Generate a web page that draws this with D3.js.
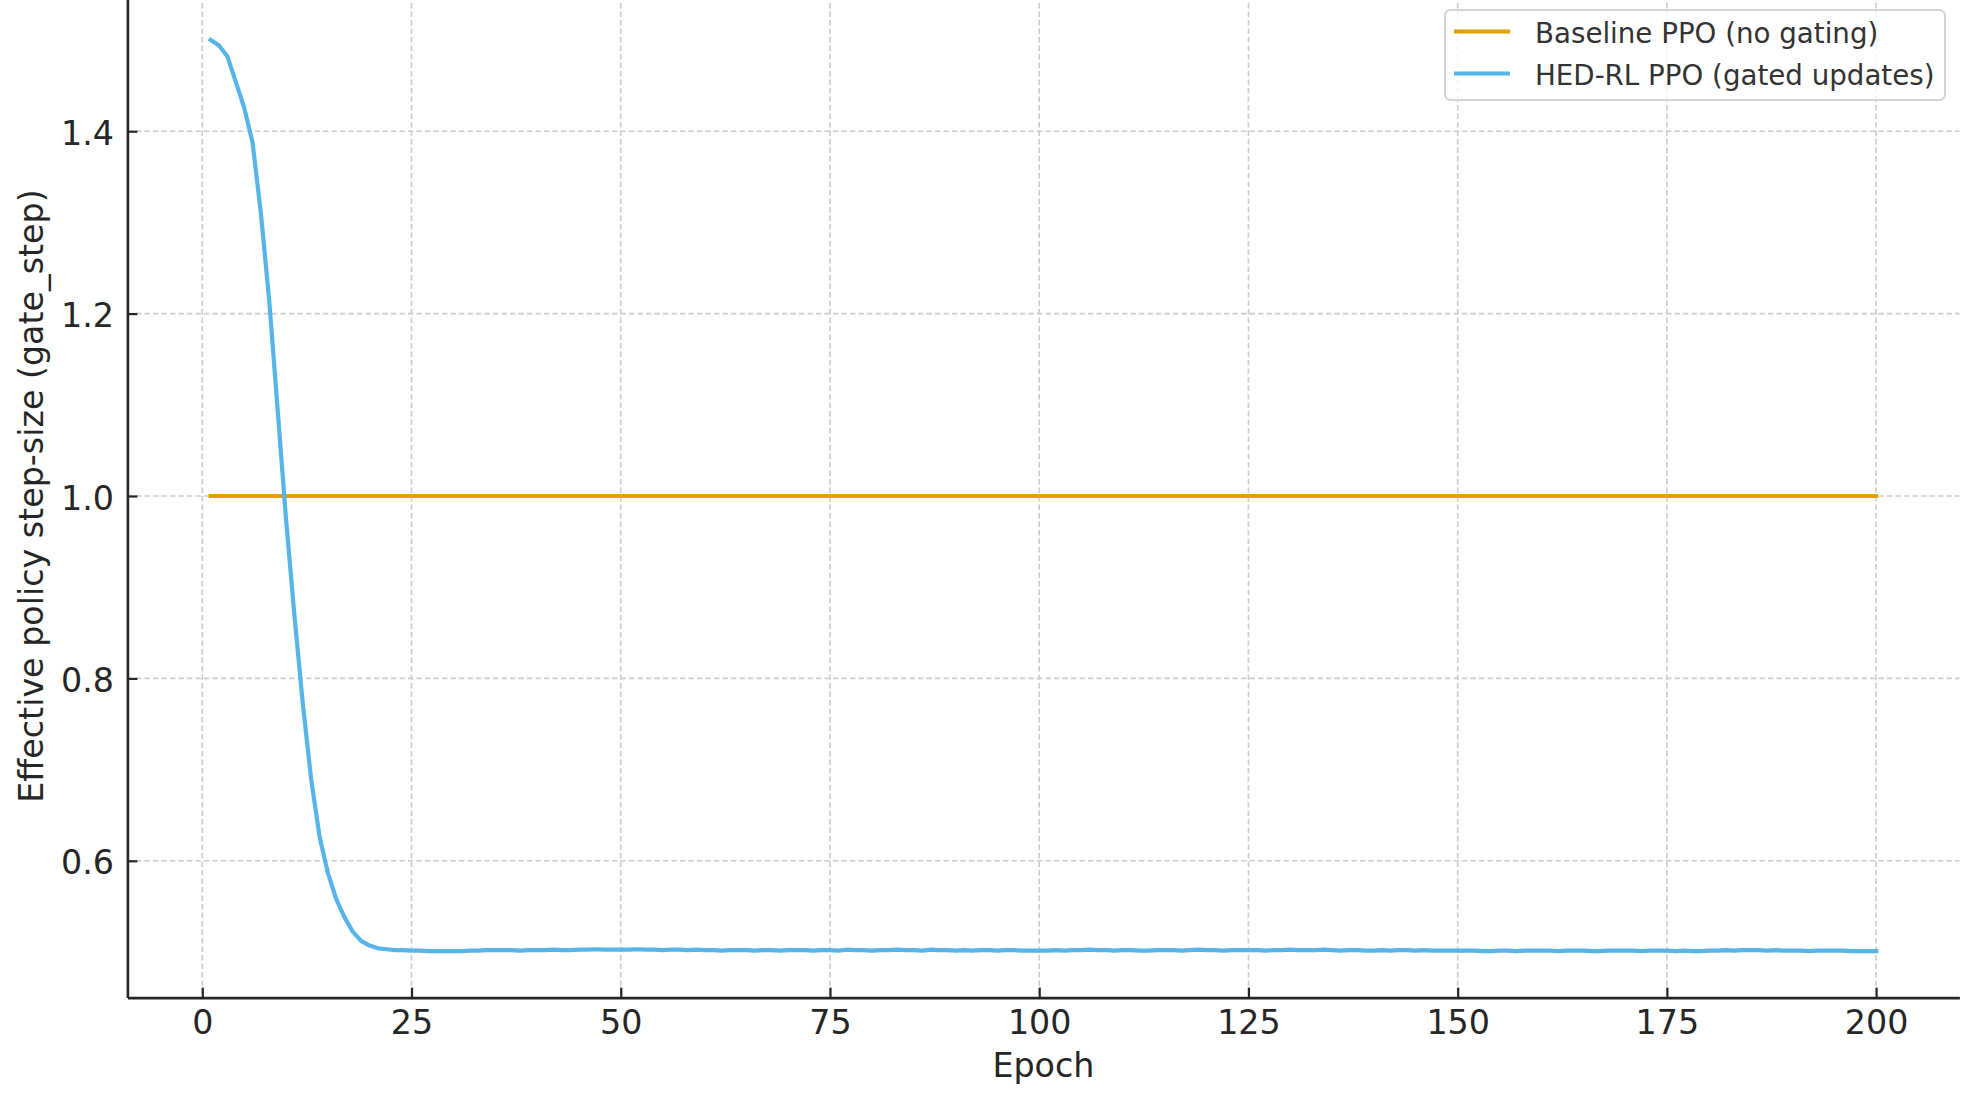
<!DOCTYPE html>
<html lang="en">

<head>
    <meta charset="UTF-8">
    <script src="https://d3js.org/d3.v7.min.js"></script>
    <title>Gate step</title>
    <style>
        body { margin: 0; background: #fff; }
        text { font-family: "DejaVu Sans", sans-serif; }
    </style>
</head>

<body>
    <div id="chart"></div>
    <script>

        // ---- data ----
        const epochs = d3.range(1, 201);

        const baselinePPO = [
            1.0, 1.0, 1.0, 1.0, 1.0, 1.0, 1.0, 1.0, 1.0, 1.0, 1.0, 1.0, 1.0, 1.0, 1.0, 1.0, 1.0, 1.0, 1.0, 1.0,
            1.0, 1.0, 1.0, 1.0, 1.0, 1.0, 1.0, 1.0, 1.0, 1.0, 1.0, 1.0, 1.0, 1.0, 1.0, 1.0, 1.0, 1.0, 1.0, 1.0,
            1.0, 1.0, 1.0, 1.0, 1.0, 1.0, 1.0, 1.0, 1.0, 1.0, 1.0, 1.0, 1.0, 1.0, 1.0, 1.0, 1.0, 1.0, 1.0, 1.0,
            1.0, 1.0, 1.0, 1.0, 1.0, 1.0, 1.0, 1.0, 1.0, 1.0, 1.0, 1.0, 1.0, 1.0, 1.0, 1.0, 1.0, 1.0, 1.0, 1.0,
            1.0, 1.0, 1.0, 1.0, 1.0, 1.0, 1.0, 1.0, 1.0, 1.0, 1.0, 1.0, 1.0, 1.0, 1.0, 1.0, 1.0, 1.0, 1.0, 1.0,
            1.0, 1.0, 1.0, 1.0, 1.0, 1.0, 1.0, 1.0, 1.0, 1.0, 1.0, 1.0, 1.0, 1.0, 1.0, 1.0, 1.0, 1.0, 1.0, 1.0,
            1.0, 1.0, 1.0, 1.0, 1.0, 1.0, 1.0, 1.0, 1.0, 1.0, 1.0, 1.0, 1.0, 1.0, 1.0, 1.0, 1.0, 1.0, 1.0, 1.0,
            1.0, 1.0, 1.0, 1.0, 1.0, 1.0, 1.0, 1.0, 1.0, 1.0, 1.0, 1.0, 1.0, 1.0, 1.0, 1.0, 1.0, 1.0, 1.0, 1.0,
            1.0, 1.0, 1.0, 1.0, 1.0, 1.0, 1.0, 1.0, 1.0, 1.0, 1.0, 1.0, 1.0, 1.0, 1.0, 1.0, 1.0, 1.0, 1.0, 1.0,
            1.0, 1.0, 1.0, 1.0, 1.0, 1.0, 1.0, 1.0, 1.0, 1.0, 1.0, 1.0, 1.0, 1.0, 1.0, 1.0, 1.0, 1.0, 1.0, 1.0
        ];

        const hedPPO = [
            1.500, 1.494, 1.482, 1.454, 1.426, 1.388, 1.310, 1.214, 1.095, 0.975,
            0.870, 0.773, 0.690, 0.627, 0.587, 0.558, 0.538, 0.522, 0.512, 0.507,
            0.504, 0.503,
            0.502, 0.502, 0.5015, 0.5015, 0.501, 0.501, 0.501, 0.501,
            0.501, 0.5015, 0.5015, 0.502, 0.502, 0.502, 0.502, 0.5015, 0.502, 0.502,
            0.502, 0.5025, 0.502, 0.502, 0.5025, 0.5025, 0.503, 0.5025, 0.5025, 0.5025,
            0.5025, 0.503, 0.5025, 0.5025, 0.502, 0.5025, 0.5025, 0.502, 0.5025, 0.502,
            0.502, 0.5015, 0.502, 0.502, 0.502, 0.5015, 0.502, 0.502, 0.5015, 0.502,
            0.502, 0.502, 0.5015, 0.502, 0.502, 0.5015, 0.5025, 0.502, 0.502, 0.5015,
            0.502, 0.502, 0.5025, 0.502, 0.502, 0.5015, 0.5025, 0.502, 0.502, 0.5015,
            0.502, 0.5015, 0.502, 0.502, 0.5015, 0.502, 0.502, 0.5015, 0.5015, 0.5015,
            0.5015, 0.502, 0.5015, 0.502, 0.502, 0.5025, 0.502, 0.502, 0.5015, 0.502,
            0.502, 0.5015, 0.5015, 0.502, 0.502, 0.502, 0.5015, 0.502, 0.5025, 0.502,
            0.502, 0.5015, 0.502, 0.502, 0.502, 0.502, 0.5015, 0.502, 0.502, 0.5025,
            0.502, 0.502, 0.502, 0.5025, 0.502, 0.5015, 0.502, 0.502, 0.5015, 0.5015,
            0.502, 0.5015, 0.502, 0.502, 0.5015, 0.502, 0.5015, 0.5015, 0.5015, 0.5015,
            0.5015, 0.5015, 0.501, 0.501, 0.5015, 0.5015, 0.501, 0.5015, 0.5015, 0.5015,
            0.5015, 0.501, 0.5015, 0.5015, 0.5015, 0.501, 0.501, 0.5015, 0.5015, 0.5015,
            0.5015, 0.501, 0.5015, 0.5015, 0.5015, 0.501, 0.5015, 0.501, 0.501, 0.5015,
            0.5015, 0.502, 0.5015, 0.502, 0.502, 0.502, 0.5015, 0.502, 0.5015, 0.5015,
            0.5015, 0.501, 0.5015, 0.5015, 0.5015, 0.5015, 0.501, 0.501, 0.501, 0.501
        ];

        const seriesNames = ["Baseline PPO (no gating)", "HED-RL PPO (gated updates)"];
        const seriesColors = ["#E69F00", "#56B4E9"];

        const xTicks = [0, 25, 50, 75, 100, 125, 150, 175, 200];
        const yTicks = [0.6, 0.8, 1.0, 1.2, 1.4];
        const xDomain = [-8.95, 209.95];
        const yDomain = [0.45, 1.55];

        // ---- layout ----
        const W = 1979, H = 1097;
        const plot = { left: 127.4, right: 1959.4, top: -5.6, bottom: 997.6 };
        const tickFont = 33.3, legendFont = 27.7;

        const svg = d3.select("#chart")
            .append("svg")
            .attr("width", W)
            .attr("height", H);

        const x = d3.scaleLinear().domain(xDomain).range([plot.left, plot.right]);
        const y = d3.scaleLinear().domain(yDomain).range([plot.bottom, plot.top]);

        // grid
        const grid = svg.append("g")
            .attr("stroke", "#cccccc")
            .attr("stroke-width", 1.6)
            .attr("stroke-dasharray", "5.5,3");
        grid.selectAll(".vg").data(xTicks).join("line")
            .attr("x1", d => x(d)).attr("x2", d => x(d))
            .attr("y1", plot.top).attr("y2", plot.bottom);
        grid.selectAll(".hg").data(yTicks).join("line")
            .attr("y1", d => y(d)).attr("y2", d => y(d))
            .attr("x1", plot.left).attr("x2", plot.right);

        // lines
        const series = [baselinePPO, hedPPO];
        const line = d3.line()
            .x((d, i) => x(epochs[i]))
            .y(d => y(d));
        svg.selectAll(".line").data(series).join("path")
            .attr("class", "line")
            .attr("fill", "none")
            .attr("stroke", (d, i) => seriesColors[i])
            .attr("stroke-width", 4.2)
            .attr("stroke-linejoin", "round")
            .attr("stroke-linecap", "square")
            .attr("d", line);

        // axes (ticks point inward)
        const xAxis = svg.append("g")
            .attr("transform", `translate(0, ${plot.bottom})`)
            .call(d3.axisBottom(x).tickValues(xTicks).tickSizeInner(-10).tickSizeOuter(0).tickPadding(12.4));
        const yAxis = svg.append("g")
            .attr("transform", `translate(${plot.left}, 0)`)
            .call(d3.axisLeft(y).tickValues(yTicks).tickFormat(d3.format(".1f"))
                .tickSizeInner(-10).tickSizeOuter(0).tickPadding(13.5));

        [xAxis, yAxis].forEach(g => {
            g.select(".domain").attr("stroke", "#262626").attr("stroke-width", 2.6);
            g.selectAll(".tick line").attr("stroke", "#262626").attr("stroke-width", 2.2);
            g.selectAll(".tick text")
                .attr("fill", "#262626")
                .style("font-family", "'DejaVu Sans', sans-serif")
                .style("font-size", tickFont + "px");
        });
        xAxis.selectAll(".tick text").attr("dy", "0.71em");
        yAxis.selectAll(".tick text").attr("dy", "0.39em");

        // axis labels
        svg.append("text")
            .attr("x", (plot.left + plot.right) / 2)
            .attr("y", 1077)
            .attr("text-anchor", "middle")
            .attr("fill", "#262626")
            .style("font-size", tickFont + "px")
            .text("Epoch");

        svg.append("text")
            .attr("transform", `translate(43, ${(plot.top + plot.bottom) / 2}) rotate(-90)`)
            .attr("text-anchor", "middle")
            .attr("fill", "#262626")
            .style("font-size", tickFont + "px")
            .text("Effective policy step-size (gate_step)");

        // legend
        const legend = svg.append("g");
        legend.append("rect")
            .attr("x", 1445).attr("y", 10)
            .attr("width", 500).attr("height", 90)
            .attr("rx", 5.5)
            .attr("fill", "#ffffff").attr("fill-opacity", 0.8)
            .attr("stroke", "#d4d4d4").attr("stroke-width", 2);

        const items = legend.selectAll(".item").data(seriesNames).join("g")
            .attr("transform", (d, i) => `translate(0, ${31.5 + i * 42})`);
        items.append("line")
            .attr("x1", 1454).attr("x2", 1510)
            .attr("stroke", (d, i) => seriesColors[i])
            .attr("stroke-width", 4.2);
        items.append("text")
            .attr("x", 1535).attr("y", 11.5)
            .attr("fill", "#333333")
            .style("font-size", legendFont + "px")
            .text(d => d);

    </script>
</body>

</html>
